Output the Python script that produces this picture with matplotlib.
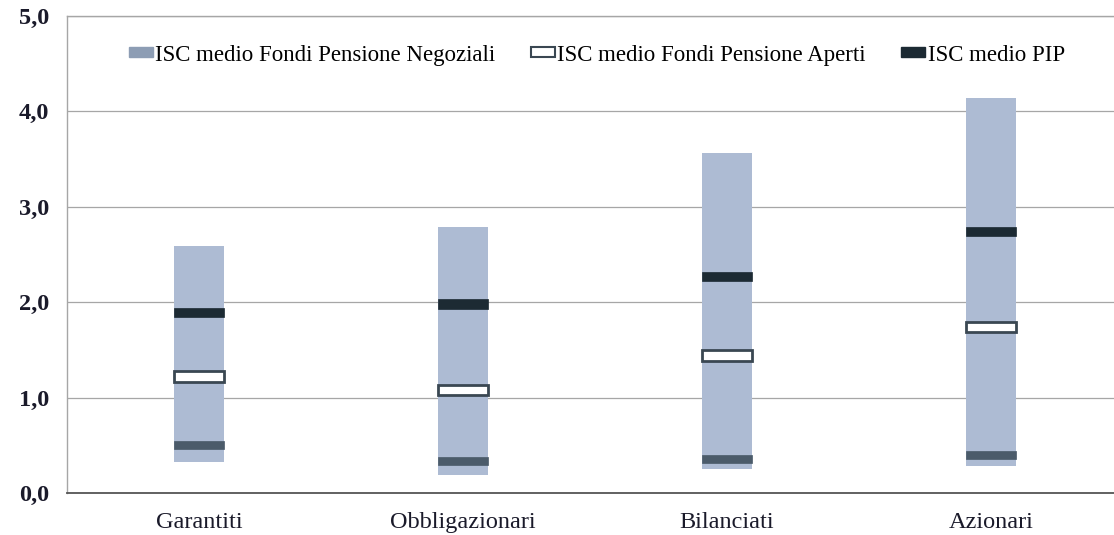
import numpy as np
import matplotlib.pyplot as plt
from matplotlib.patches import Rectangle

categories = ["Garantiti", "Obbligazionari", "Bilanciati", "Azionari"]
range_min = [0.32, 0.19, 0.25, 0.28]
range_max = [2.59, 2.79, 3.56, 4.14]
isc_negoziali = [0.50, 0.34, 0.36, 0.40]
isc_aperti = [1.22, 1.08, 1.44, 1.74]
isc_pip = [1.89, 1.98, 2.27, 2.74]
y_ticks = [0.0, 1.0, 2.0, 3.0, 4.0, 5.0]

labels = ["ISC medio Fondi Pensione Negoziali", "ISC medio Fondi Pensione Aperti", "ISC medio PIP"]

plt.rcParams['font.family'] = ['Liberation Serif', 'DejaVu Serif']

fig = plt.figure(figsize=(11.14, 5.35), dpi=100)
ax = fig.add_axes([0.060, 0.0785, 0.94, 0.8916])

x = np.arange(len(categories))
w = 0.19
lo = np.array(range_min)
hi = np.array(range_max)

# range bars (min-max)
ax.bar(x, hi - lo, bottom=lo, width=w, color="#adbbd3", zorder=2)

# average markers
def marker(vals, h, face, edge, lw):
    v = np.array(vals)
    ax.bar(x, h, bottom=v - h / 2, width=w, color=face, edgecolor=edge, linewidth=lw, zorder=3)

marker(isc_negoziali, 0.085, "#4b5b6a", "#4b5b6a", 0.5)
marker(isc_aperti, 0.11, "white", "#3a4752", 2.0)
marker(isc_pip, 0.10, "#1c2a33", "#1c2a33", 0.5)

ax.set_ylim(0, 5)
ax.set_xlim(-0.5, 3.466)
ax.set_yticks(y_ticks)
ax.set_yticklabels([f"{t:.1f}".replace(".", ",") for t in y_ticks], fontsize=17.5, fontweight="bold", color="#1a1a2a")
ax.set_xticks(x)
ax.set_xticklabels(categories, fontsize=17.5, color="#1a1a2a")
ax.tick_params(axis="both", length=0)
ax.tick_params(axis="y", pad=13)
ax.tick_params(axis="x", pad=14)

ax.grid(axis="y", color="#a6a6a6", linewidth=0.9, zorder=0)
for s in ["left", "top"]:
    ax.spines[s].set_color("#a6a6a6")
    ax.spines[s].set_linewidth(1.0)
ax.spines["bottom"].set_color("#555555")
ax.spines["bottom"].set_linewidth(1.3)
ax.spines["right"].set_visible(False)

handles = [
    Rectangle((0, 0), 1, 1, facecolor="#8d9db4", edgecolor="#8d9db4"),
    Rectangle((0, 0), 1, 1, facecolor="white", edgecolor="#3a4752", linewidth=1.5),
    Rectangle((0, 0), 1, 1, facecolor="#1c2a33", edgecolor="#1c2a33"),
]
ax.legend(handles, labels, loc="center", bbox_to_anchor=(0.506, 0.918), ncol=3,
          frameon=False, fontsize=16.5, handlelength=1.05, handleheight=0.3,
          handletextpad=0.1, columnspacing=1.55, borderpad=0)

fig.savefig("out.png", dpi=100, facecolor="white")
